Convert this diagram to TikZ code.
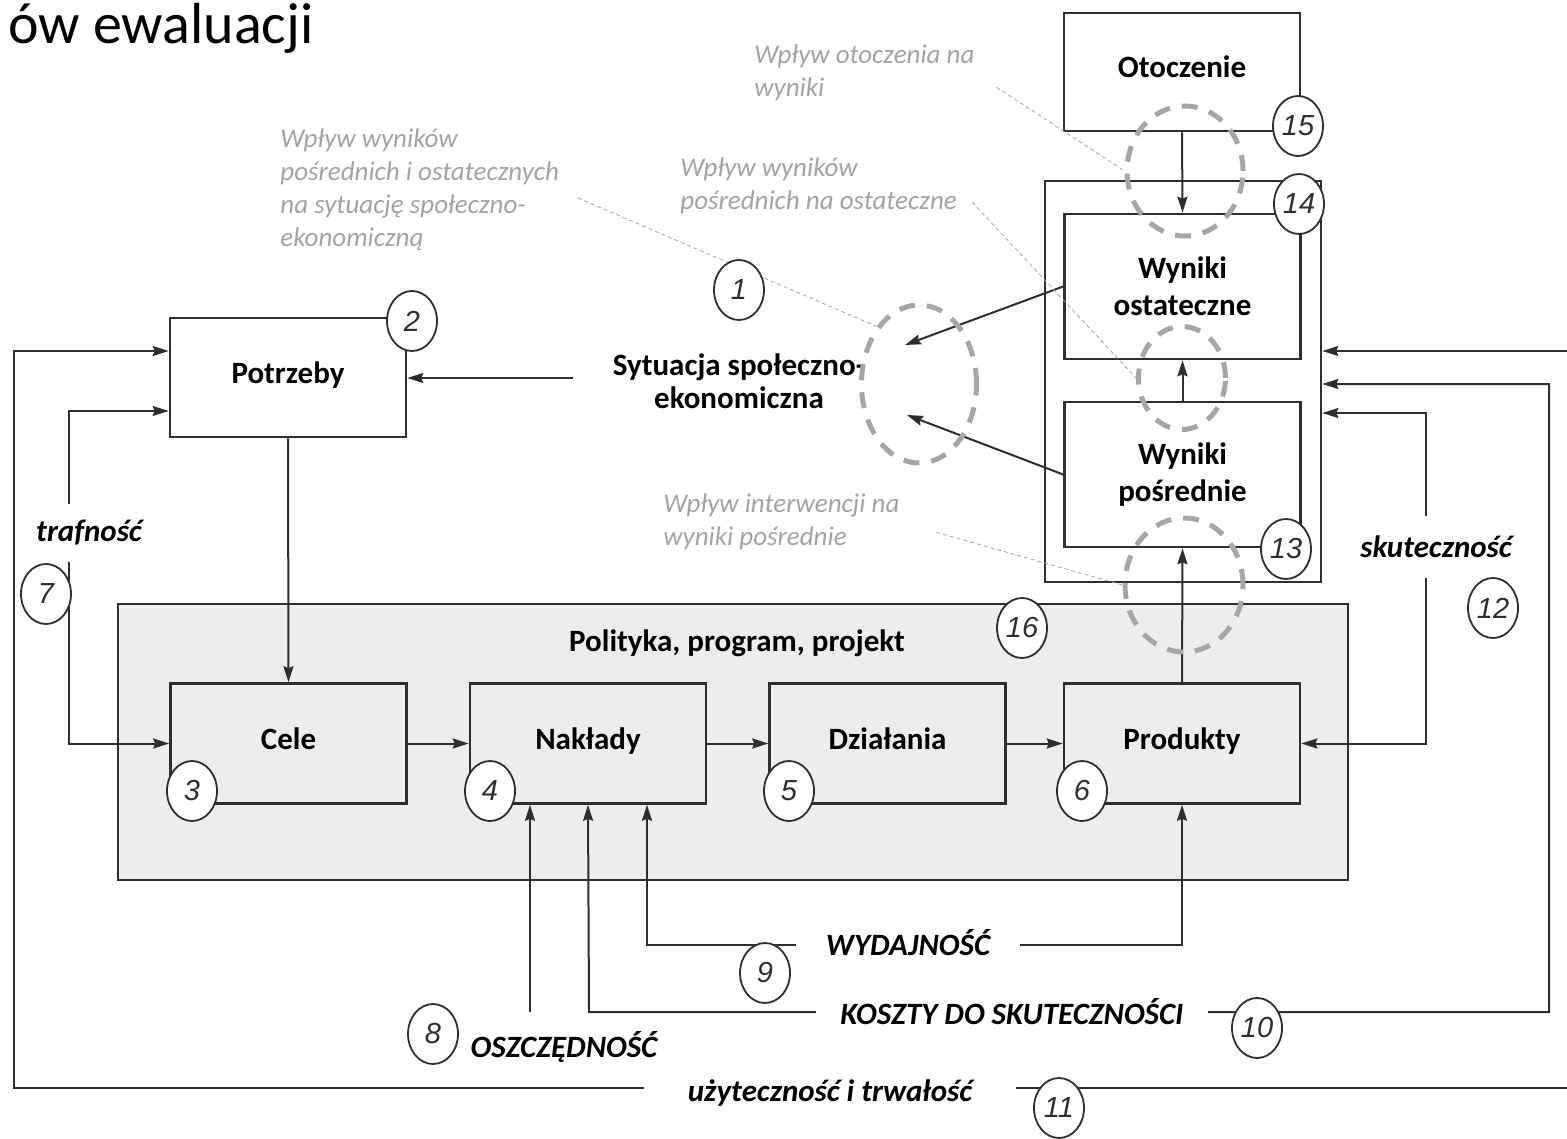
\documentclass[tikz,border=0pt]{standalone}
\usepackage{fontspec}
\setmainfont{Carlito}
\newfontfamily\numfont{Liberation Sans}
\usetikzlibrary{arrows.meta,shapes.geometric}
\definecolor{ink}{HTML}{2E2E2E}
\definecolor{panel}{HTML}{EDEDEE}
\definecolor{ringgray}{HTML}{A6A6A6}
\definecolor{notegray}{HTML}{A3A3A3}

\begin{document}
\begin{tikzpicture}[x=0.5pt,y=-0.5pt,
	box/.style={draw=ink,line width=1.3pt,minimum width=118pt,minimum height=60pt,inner sep=0,align=center,font=\fontsize{15.5}{18.5}\selectfont\bfseries},
	oneline/.style={text height=10.5pt,text depth=4.5pt},
	gtext/.style={align=left,inner sep=0,text=notegray,font=\fontsize{13.5}{16.5}\selectfont\itshape},
	lbl/.style={fill=white,inner sep=0,font=\fontsize{15.5}{18}\selectfont\bfseries\itshape},
	num/.style={ellipse,draw=ink,line width=0.9pt,fill=white,minimum width=25pt,minimum height=30pt,inner sep=0,text=ink,font=\numfont\itshape\fontsize{14.5}{14.5}\selectfont},
	ring/.style={ellipse,draw=ringgray,line width=2.5pt,dash pattern=on 8pt off 6pt,inner sep=0},
	arr/.style={draw=ink,line width=1pt,-{Stealth[length=8pt,width=5pt,inset=1pt]}},
	dbl/.style={draw=ink,line width=1pt,{Stealth[length=8pt,width=5pt,inset=1pt]}-{Stealth[length=8pt,width=5pt,inset=1pt]}},
	note/.style={notegray,line width=0.4pt,dash pattern=on 2pt off 1.5pt}]
	\useasboundingbox (0,0) rectangle (1567,1139);

	% title and notes
	\node[anchor=base east,inner sep=0,font=\fontsize{29}{29}\selectfont] (title) at (314,44) {ów ewaluacji};
	\node[gtext,anchor=west] (ann1) at (280,190) {Wpływ wyników\\pośrednich i ostatecznych\\na sytuację społeczno-\\ekonomiczną};
	\node[gtext,anchor=west] (ann2) at (754,73) {Wpływ otoczenia na\\wyniki};
	\node[gtext,anchor=west] (ann3) at (680,186) {Wpływ wyników\\pośrednich na ostateczne};
	\node[gtext,anchor=west] (ann4) at (663,522) {Wpływ interwencji na\\wyniki pośrednie};

	% boxes
	\node[box,fill=panel,minimum width=615pt,minimum height=138pt] (polityka) at (733,742) {};
	\node[font=\fontsize{15.5}{18}\selectfont\bfseries] (poltitle) at (737,643) {Polityka, program, projekt};
	\node[box,oneline,minimum height=59pt] (otoczenie) at (1182,72) {Otoczenie};
	\node[box,minimum width=138pt,minimum height=200.5pt] (wyniki) at (1183,381.5) {};
	\node[box,minimum height=72.5pt] (ostat) at (1182.5,286.5) {Wyniki\\ostateczne};
	\node[box,minimum height=72.5pt] (posr) at (1182.5,474.5) {Wyniki\\pośrednie};
	\node[box,oneline,minimum height=59.5pt] (potrzeby) at (288,377.5) {Potrzeby};
	\node[font=\fontsize{15.5}{16.5}\selectfont\bfseries,align=center] (sytuacja) at (739,381) {Sytuacja społeczno-\\ekonomiczna};
	\node[box,oneline] (cele) at (288.5,743.5) {Cele};
	\node[box,oneline] (naklady) at (588,743.5) {Nakłady};
	\node[box,oneline] (dzialania) at (887.5,743.5) {Działania};
	\node[box,oneline] (produkty) at (1182,743.5) {Produkty};

	% free ends
	\coordinate (sytA) at (573,378);
	\coordinate (ringA) at (905,345);
	\coordinate (ringB) at (907,415);
	\coordinate (traf) at (69,411);
	\coordinate (wyd) at (647,945);
	\coordinate (kosz) at (589,1012);
	\coordinate (koszR) at (1549,384);
	\coordinate (osz) at (530,1012);
	\coordinate (uzL) at (14,1088);
	\coordinate (uzR) at (1568,351);
	\coordinate (skut) at (1426,413);

	% arrows
	\draw[arr] (otoczenie.south) -- (ostat.north);
	\draw[arr] (posr.north) -- (ostat.south);
	\draw[arr] (produkty.north) -- (posr.south);
	\draw[arr] (ostat.west) -- (ringA);
	\draw[arr] (posr.west) -- (ringB);
	\draw[arr] (sytA) -- (sytA -| potrzeby.east);
	\draw[arr] (potrzeby.south) -- (cele.north);
	\foreach \a/\b in {cele/naklady,naklady/dzialania,dzialania/produkty}
		\draw[arr] (\a) -- (\b);
	\draw[dbl] (cele.west) -| (traf) -- (traf -| potrzeby.west);
	\draw[dbl] (wyd |- naklady.south) -- (wyd) -| (produkty.south);
	\draw[dbl] (naklady.south) -- (kosz) -| (koszR) -- (koszR -| wyniki.east);
	\draw[arr] (osz) -- (osz |- naklady.south);
	\draw[dbl] (potrzeby.west |- uzR) -| (uzL) -| (uzR) -- (wyniki.east |- uzR);
	\draw[dbl] (produkty.east) -| (skut) -- (wyniki.east |- skut);

	% labels on the lines
	\node[lbl,inner ysep=8pt] (trafnosc) at (89,533) {trafność};
	\node[lbl,inner xsep=15pt,inner ysep=3pt] (wydajnosc) at (908,943) {WYDAJNOŚĆ};
	\node[lbl,inner xsep=12pt,inner ysep=3pt] (koszty) at (1012,1012) {KOSZTY DO SKUTECZNOŚCI};
	\node[lbl,inner xsep=22pt,inner ysep=3pt] (uzytecznosc) at (830,1093) {użyteczność i trwałość};
	\node[lbl,inner ysep=10pt] (skutecznosc) at (1436,547) {skuteczność};
	\node[lbl,fill=none] (oszczednosc) at (564,1047) {OSZCZĘDNOŚĆ};

	% dashed rings
	\node[ring,minimum width=58pt,minimum height=65pt] (ellTop) at (1185,171) {};
	\node[ring,minimum width=43.5pt,minimum height=51.5pt] (ellMid) at (1182,378) {};
	\node[ring,minimum width=59pt,minimum height=67pt] (ellBot) at (1184,585) {};
	\node[ring,minimum width=57.5pt,minimum height=79pt] (ring) at (919,384) {};

	\draw[note,shorten <=10pt] (ann1.east) -- (ring.north west);
	\draw[note,shorten <=13pt] (ann2.east) -- (ellTop.west);
	\draw[note,shorten <=11pt] (ann3.east) -- (ellMid.west);
	\draw[note,shorten <=19pt] (ann4.east) -- (ellBot.west);

	% numbers
	\foreach \n/\x/\y in {1/739/290,2/412/321,3/192/791,4/490/791,5/789/791,6/1082/791,7/46/594,8/433/1034,
		9/765/973,10/1257/1028,11/1059/1108,12/1493/608,13/1286/549,14/1299/204,15/1298/126,16/1022/628}
		\node[num] (c\n) at (\x,\y) {\n};
\end{tikzpicture}
\end{document}
